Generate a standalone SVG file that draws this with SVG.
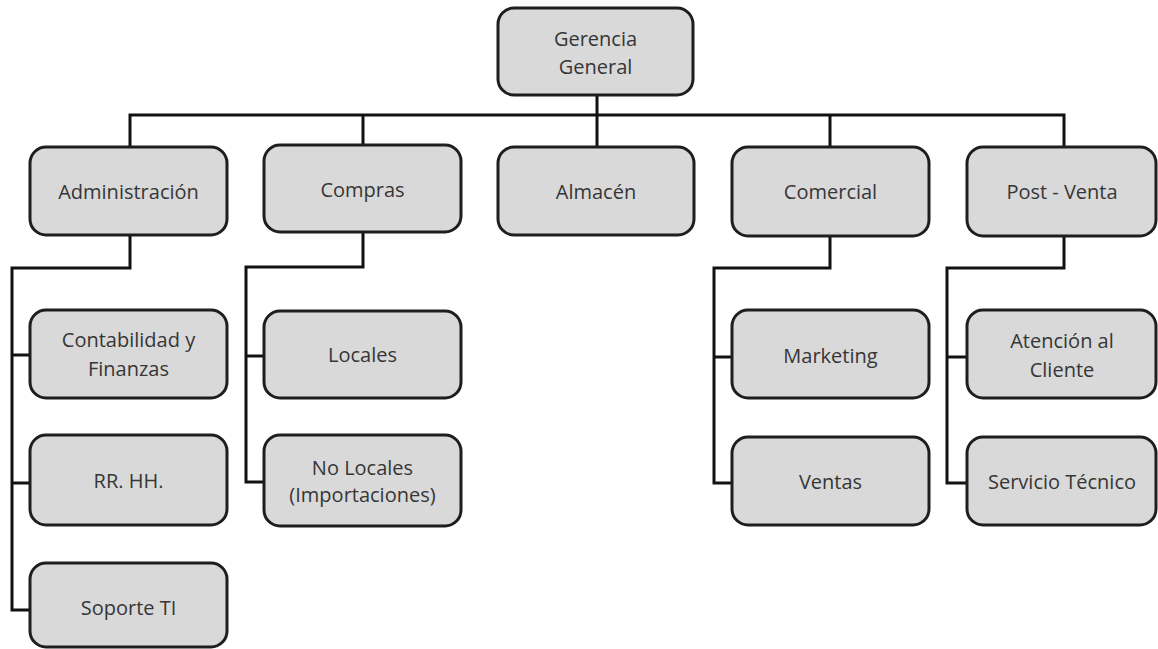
<svg xmlns="http://www.w3.org/2000/svg" width="1158" height="649" viewBox="0 0 1158 649">
  <style>
    .box { fill: #d9d9d9; stroke: #1e1e1e; stroke-width: 3; }
    .lbl { font-family: "Open Sans", "Liberation Sans", sans-serif; font-size: 20px; fill: #363636; text-anchor: middle; }
    .wire { fill: none; stroke: #111; stroke-width: 3; stroke-linejoin: miter; }
  </style>
  <rect width="1158" height="649" fill="#ffffff"/>

  <!-- connectors -->
  <g id="connectors" class="wire">
    <path d="M597 95 V147"/>
    <path d="M130 147 V115 H1064 V147"/>
    <path d="M363 115 V145"/>
    <path d="M830 115 V147"/>
    <!-- Administración branch -->
    <path d="M130 235 V268 H12 V610 H30"/>
    <path d="M12 355 H30"/>
    <path d="M12 483 H30"/>
    <!-- Compras branch -->
    <path d="M363 232 V267 H246 V482 H264"/>
    <path d="M246 356 H264"/>
    <!-- Comercial branch -->
    <path d="M830 236 V268 H714 V483 H732"/>
    <path d="M714 357 H732"/>
    <!-- Post - Venta branch -->
    <path d="M1064 236 V268 H947 V483 H967"/>
    <path d="M947 357 H967"/>
  </g>

  <g id="gerencia">
    <rect class="box" x="498" y="8" width="195" height="87" rx="16"/>
    <text class="lbl" x="595.5" y="46">Gerencia</text>
    <text class="lbl" x="595.5" y="74">General</text>
  </g>

  <g id="administracion">
    <rect class="box" x="30" y="147" width="197" height="88" rx="16"/>
    <text class="lbl" x="128.5" y="199">Administración</text>
  </g>
  <g id="compras">
    <rect class="box" x="264" y="145" width="197" height="87" rx="16"/>
    <text class="lbl" x="362.5" y="197">Compras</text>
  </g>
  <g id="almacen">
    <rect class="box" x="498" y="147" width="196" height="88" rx="16"/>
    <text class="lbl" x="596" y="199">Almacén</text>
  </g>
  <g id="comercial">
    <rect class="box" x="732" y="147" width="197" height="89" rx="16"/>
    <text class="lbl" x="830.5" y="199">Comercial</text>
  </g>
  <g id="postventa">
    <rect class="box" x="967" y="147" width="189" height="89" rx="16"/>
    <text class="lbl" x="1062" y="199">Post - Venta</text>
  </g>

  <g id="contabilidad">
    <rect class="box" x="30" y="310" width="197" height="88" rx="16"/>
    <text class="lbl" x="128.5" y="347">Contabilidad y</text>
    <text class="lbl" x="128.5" y="376">Finanzas</text>
  </g>
  <g id="rrhh">
    <rect class="box" x="30" y="435" width="197" height="90" rx="16"/>
    <text class="lbl" x="128.5" y="488">RR. HH.</text>
  </g>
  <g id="soporte">
    <rect class="box" x="30" y="563" width="197" height="84" rx="16"/>
    <text class="lbl" x="128.5" y="615">Soporte TI</text>
  </g>

  <g id="locales">
    <rect class="box" x="264" y="311" width="197" height="87" rx="16"/>
    <text class="lbl" x="362.5" y="362">Locales</text>
  </g>
  <g id="nolocales">
    <rect class="box" x="264" y="435" width="197" height="91" rx="16"/>
    <text class="lbl" x="362.5" y="475">No Locales</text>
    <text class="lbl" x="362.5" y="502">(Importaciones)</text>
  </g>

  <g id="marketing">
    <rect class="box" x="732" y="310" width="197" height="88" rx="16"/>
    <text class="lbl" x="830.5" y="363">Marketing</text>
  </g>
  <g id="ventas">
    <rect class="box" x="732" y="437" width="197" height="88" rx="16"/>
    <text class="lbl" x="830.5" y="489">Ventas</text>
  </g>

  <g id="atencion">
    <rect class="box" x="967" y="310" width="189" height="88" rx="16"/>
    <text class="lbl" x="1062" y="348">Atención al</text>
    <text class="lbl" x="1062" y="377">Cliente</text>
  </g>
  <g id="servicio">
    <rect class="box" x="967" y="437" width="189" height="88" rx="16"/>
    <text class="lbl" x="1062" y="489">Servicio Técnico</text>
  </g>
</svg>
